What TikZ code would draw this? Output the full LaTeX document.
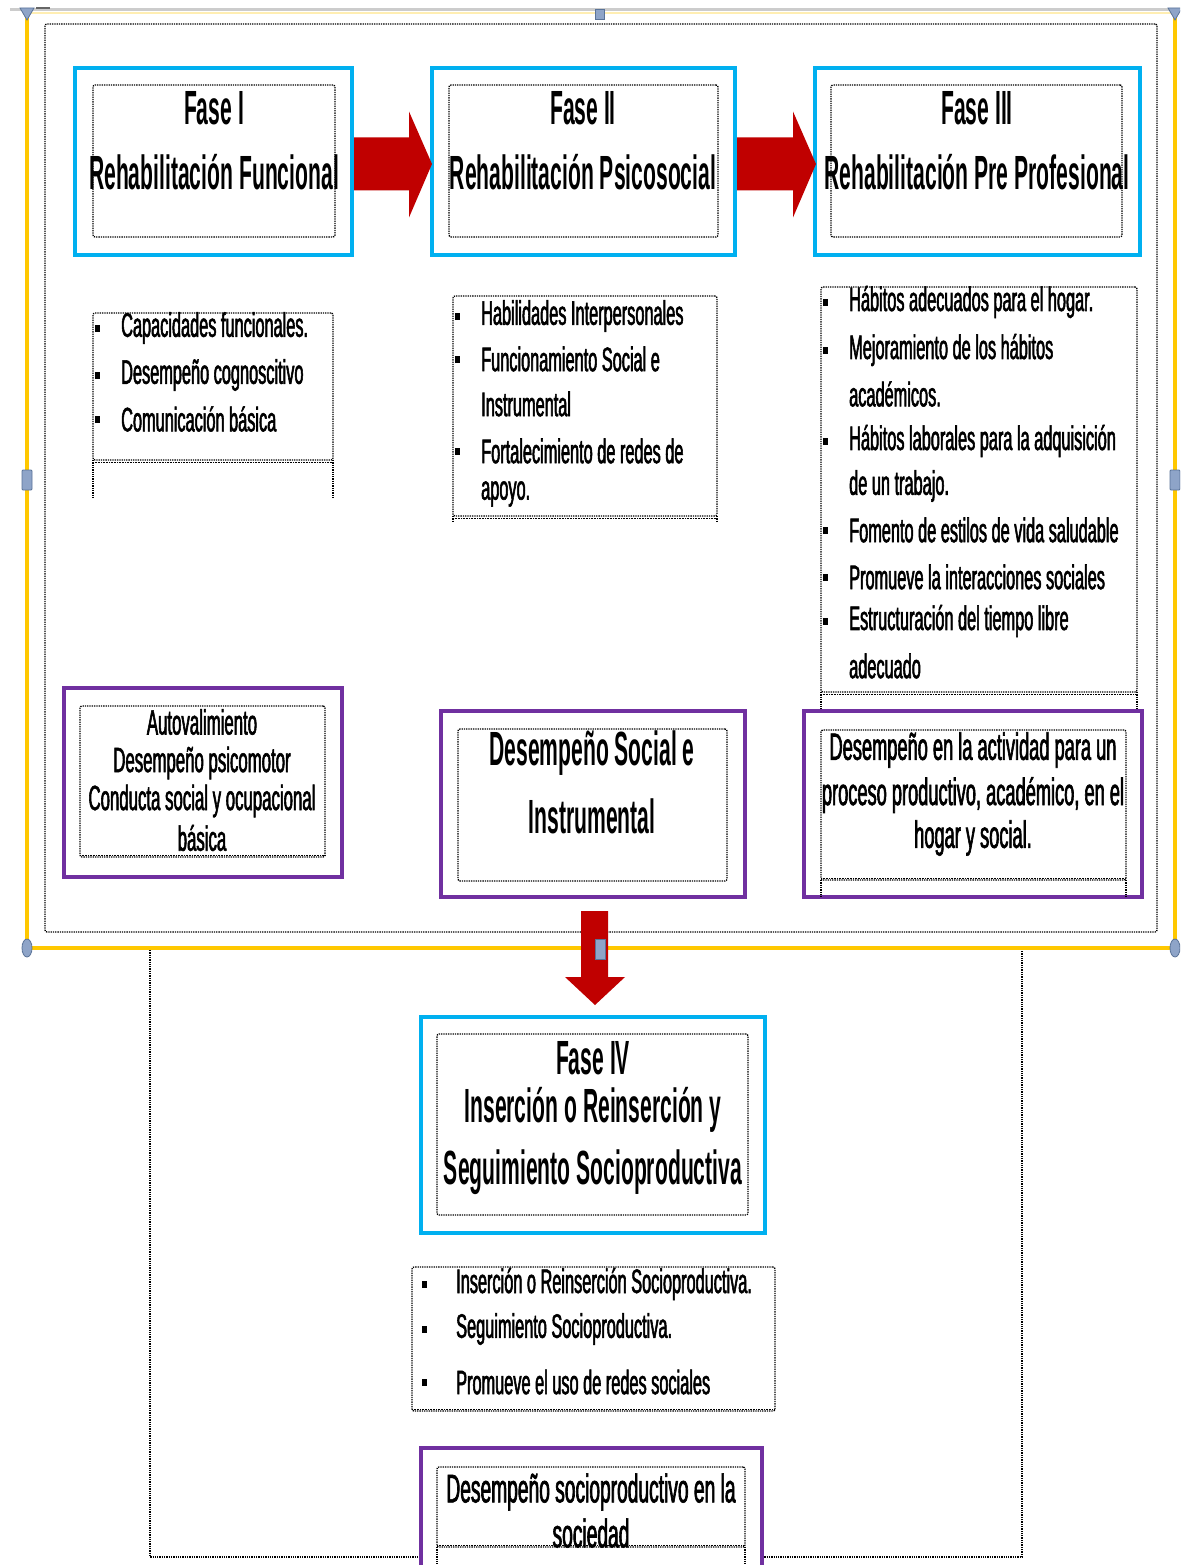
\documentclass[tikz,border=0pt]{standalone}
\usepackage{fontspec}
\setmainfont{Liberation Sans}
\newfontfamily\tbf[FakeStretch=0.44]{Liberation Sans}
\newfontfamily\tnr[FakeStretch=0.48,FakeBold=1.6]{Liberation Sans}
\usetikzlibrary{calc,shapes.geometric}
\definecolor{cyanB}{HTML}{00B0F0}
\definecolor{purp}{HTML}{7030A0}
\definecolor{arrred}{HTML}{C00000}
\definecolor{yel}{HTML}{FFC800}
\definecolor{hfill}{HTML}{8EA4C8}
\definecolor{hdraw}{HTML}{5A7398}
\tikzset{
 bluebox/.style={draw=cyanB, line width=4pt, fill=white, inner sep=0pt, rectangle},
 purpbox/.style={draw=purp, line width=4pt, fill=white, inner sep=0pt, rectangle},
 dotbox/.style={draw=black, densely dotted, line width=1.3pt, inner sep=0pt, rectangle, rounded corners=2pt},
 dotline/.style={draw=black, densely dotted, line width=1.3pt},
 ttl/.style={font=\tbf\bfseries\fontsize{48}{50}\selectfont, inner sep=0pt},
 ctx/.style={font=\tnr\fontsize{35}{38}\selectfont, inner sep=0pt},
 itm/.style={font=\tnr\fontsize{34}{36}\selectfont, inner sep=0pt, anchor=west},
 blt/.style={fill=black, minimum width=5pt, minimum height=7pt, inner sep=0pt, rectangle},
 hnd/.style={fill=hfill, draw=hdraw, line width=0.8pt, inner sep=0pt},
}
\begin{document}
\begin{tikzpicture}[x=1pt,y=-1pt]
\clip (0,0) rectangle (1180,1565);
\fill[white] (0,0) rectangle (1180,1565);
% window/top line
\draw[black!20, line width=3pt] (10,10) -- (1180,10);
\draw[yel!30, line width=2pt] (27,13) -- (1175,13);
\draw[black!60, line width=2pt] (36,8) -- (50,8);
% yellow frame
\draw[yel, line width=4pt] (27,12) -- (27,948) -- (1175,948) -- (1175,12);
% inner dotted frame
\node[dotbox, minimum width=1112pt, minimum height=908pt] (frame) at (601,478) {};
% lower dotted frame
\coordinate (lf1) at (150,950);
\coordinate (lf2) at (150,1557);
\coordinate (lf3) at (1022,1557);
\coordinate (lf4) at (1022,950);
\draw[dotline] (lf1) -- (lf2) -- (lf3) -- (lf4);

% Fase boxes
\node[bluebox, minimum width=277pt, minimum height=187pt] (f1) at (213.5,161.5) {};
\node[dotbox, minimum width=242pt, minimum height=152pt] (f1i) at (214,161) {};
\node[ttl] (f1a) at (214,108) {Fase I};
\node[ttl] (f1b) at (214,172) {Rehabilitación Funcional};

\node[bluebox, minimum width=303pt, minimum height=187pt] (f2) at (583.5,161.5) {};
\node[dotbox, minimum width=269pt, minimum height=152pt] (f2i) at (583.5,161) {};
\node[ttl] (f2a) at (583,108) {Fase II};
\node[ttl] (f2b) at (583,172) {Rehabilitación Psicosocial};

\node[bluebox, minimum width=325pt, minimum height=187pt] (f3) at (977.5,161.5) {};
\node[dotbox, minimum width=291pt, minimum height=152pt] (f3i) at (976.5,161) {};
\node[ttl] (f3a) at (977,108) {Fase III};
\node[ttl] (f3b) at (977,172) {Rehabilitación Pre Profesional};

% red arrows
\fill[arrred] ($(f1.east)+(0,-24)$) -- ($(f2.west)+(-21,-24)$) -- ($(f2.west)+(-21,-50)$) -- ($(f2.west)+(2,2.5)$) -- ($(f2.west)+(-21,56)$) -- ($(f2.west)+(-21,29)$) -- ($(f1.east)+(0,29)$) -- cycle;
\fill[arrred] ($(f2.east)+(0,-24)$) -- ($(f3.west)+(-20,-24)$) -- ($(f3.west)+(-20,-50)$) -- ($(f3.west)+(3,2.5)$) -- ($(f3.west)+(-20,56)$) -- ($(f3.west)+(-20,29)$) -- ($(f2.east)+(0,29)$) -- cycle;

% list 1
\node[dotbox, minimum width=240pt, minimum height=147pt] (l1) at (213,386.5) {};
\draw[dotline] (93,460) -- (93,497) (333,460) -- (333,497);
\draw[black, line width=0.6pt, densely dotted] (93,462) -- (333,462);
\node[blt] (b11) at (97,328) {};
\node[blt] (b12) at (97,375) {};
\node[blt] (b13) at (97,419) {};
\node[itm] (t11) at (121,328) {Capacidades funcionales.};
\node[itm] (t12) at (121,375) {Desempeño cognoscitivo};
\node[itm] (t13) at (121,419) {Comunicación básica};

% list 2
\node[dotbox, minimum width=264pt, minimum height=220pt] (l2) at (585,406) {};
\draw[dotline] (453,516) -- (453,522) (717,516) -- (717,522);
\draw[black, line width=0.6pt, densely dotted] (453,518) -- (717,518);
\node[blt] (b21) at (457,316) {};
\node[blt] (b22) at (457,359) {};
\node[blt] (b23) at (457,451) {};
\node[itm] (t21) at (481,316) {Habilidades Interpersonales};
\node[itm] (t22) at (481,359) {Funcionamiento Social e};
\node[itm] (t23) at (481,404) {Instrumental};
\node[itm] (t24) at (481,451) {Fortalecimiento de redes de};
\node[itm] (t25) at (481,494) {apoyo.};

% list 3
\node[dotbox, minimum width=316pt, minimum height=405pt] (l3) at (979,489.5) {};
\draw[dotline] (821,692) -- (821,711) (1137,692) -- (1137,711);
\draw[black, line width=0.6pt, densely dotted] (821,694) -- (1137,694);
\node[blt] (b31) at (825,302) {};
\node[blt] (b32) at (825,350) {};
\node[blt] (b33) at (825,441) {};
\node[blt] (b34) at (825,530) {};
\node[blt] (b35) at (825,577) {};
\node[blt] (b36) at (825,621) {};
\node[itm] (t31) at (849,302) {Hábitos adecuados para el hogar.};
\node[itm] (t32) at (849,350) {Mejoramiento de los hábitos};
\node[itm] (t33) at (849,394) {académicos.};
\node[itm] (t34) at (849,441) {Hábitos laborales para la adquisición};
\node[itm] (t35) at (849,486) {de un trabajo.};
\node[itm] (t36) at (849,530) {Fomento de estilos de vida saludable};
\node[itm] (t37) at (849,577) {Promueve la interacciones sociales};
\node[itm] (t38) at (849,621) {Estructuración del tiempo libre};
\node[itm] (t39) at (849,666) {adecuado};

% purple boxes
\node[purpbox, minimum width=278pt, minimum height=189pt] (mA) at (203,782.5) {};
\node[dotbox, minimum width=245pt, minimum height=151pt] (mAi) at (202.5,781.5) {};
\draw[black, line width=0.6pt, densely dotted] (80,855) -- (325,855);
\node[ctx] (ta1) at (202,722) {Autovalimiento};
\node[ctx] (ta2) at (202,763) {Desempeño psicomotor};
\node[ctx] (ta3) at (202,801) {Conducta social y ocupacional};
\node[ctx] (ta4) at (202,838) {básica};

\node[purpbox, minimum width=304pt, minimum height=186pt] (mB) at (593,804) {};
\node[dotbox, minimum width=269pt, minimum height=152pt] (mBi) at (592.5,805) {};
\node[ttl] (tb1) at (592,753) {Desempeño Social e};
\node[ttl] (tb2) at (592,816) {Instrumental};

\node[purpbox, minimum width=338pt, minimum height=186pt] (mC) at (973,804) {};
\node[dotbox, minimum width=305pt, minimum height=150pt] (mCi) at (973.5,805) {};
\draw[dotline] (821,880) -- (821,897) (1126,880) -- (1126,897);
\draw[black, line width=0.6pt, densely dotted] (821,878) -- (1126,878);
\node[ctx, font=\tnr\fontsize{38}{40}\selectfont] (tc1) at (973,750) {Desempeño en la actividad para un};
\node[ctx, font=\tnr\fontsize{38}{40}\selectfont] (tc2) at (973,795) {proceso productivo, académico, en el};
\node[ctx, font=\tnr\fontsize{38}{40}\selectfont] (tc3) at (973,838) {hogar y social.};

% Fase IV
\node[bluebox, minimum width=344pt, minimum height=216pt] (f4) at (593,1125) {};
\node[dotbox, minimum width=311pt, minimum height=181pt] (f4i) at (592.5,1124.5) {};
\node[ttl] (f4a) at (593,1058) {Fase IV};
\node[ttl] (f4b) at (593,1110) {Inserción o Reinserción y};
\node[ttl] (f4c) at (593,1172) {Seguimiento Socioproductiva};

% down arrow
\fill[arrred] ($(mB.south)+(-12,12)$) -- ($(mB.south)+(15,12)$) -- ($(f4.north)+(15,-38)$) -- ($(f4.north)+(32,-38)$) -- ($(f4.north)+(2,-10)$) -- ($(f4.north)+(-28,-38)$) -- ($(f4.north)+(-12,-38)$) -- cycle;

% list 4
\node[dotbox, minimum width=363pt, minimum height=144pt] (l4) at (593.5,1339) {};
\draw[black, line width=0.6pt, densely dotted] (412,1409) -- (775,1409);
\node[blt] (b41) at (424,1284) {};
\node[blt] (b42) at (424,1329) {};
\node[blt] (b43) at (424,1382) {};
\node[itm] (t41) at (456,1284) {Inserción o Reinserción Socioproductiva.};
\node[itm] (t42) at (456,1329) {Seguimiento Socioproductiva.};
\node[itm] (t43) at (456,1382) {Promueve el uso de redes sociales};

% bottom purple box
\node[purpbox, minimum width=341pt, minimum height=142pt] (mD) at (591.5,1519) {};
\node[dotbox, minimum width=308pt, minimum height=80pt] (mDi) at (591,1507) {};
\draw[dotline] (437,1547) -- (437,1570) (745,1547) -- (745,1570);
\draw[black, line width=0.6pt, densely dotted] (437,1545) -- (745,1545);
\node[ctx, font=\tnr\fontsize{40}{42}\selectfont] (td1) at (591,1492) {Desempeño socioproductivo en la};
\node[ctx, font=\tnr\fontsize{40}{42}\selectfont] (td2) at (591,1533) {sociedad};

% handles
\fill[hfill, draw=hdraw, line width=0.8pt] (20,8) -- (34,8) -- (27,20) -- cycle;
\fill[hfill, draw=hdraw, line width=0.8pt] (1168,8) -- (1182,8) -- (1175,20) -- cycle;
\node[hnd, minimum width=9pt, minimum height=10pt] (h1) at (600,14) {};
\node[hnd, minimum width=10pt, minimum height=20pt, rounded corners=1pt] (h2) at (27,480) {};
\node[hnd, minimum width=10pt, minimum height=20pt, rounded corners=1pt] (h3) at (1175,480) {};
\node[hnd, minimum width=10pt, minimum height=20pt] (h4) at (600,949) {};
\node[hnd, ellipse, minimum width=10pt, minimum height=18pt] (h5) at (27,948) {};
\node[hnd, ellipse, minimum width=10pt, minimum height=18pt] (h6) at (1175,948) {};
\end{tikzpicture}
\end{document}
